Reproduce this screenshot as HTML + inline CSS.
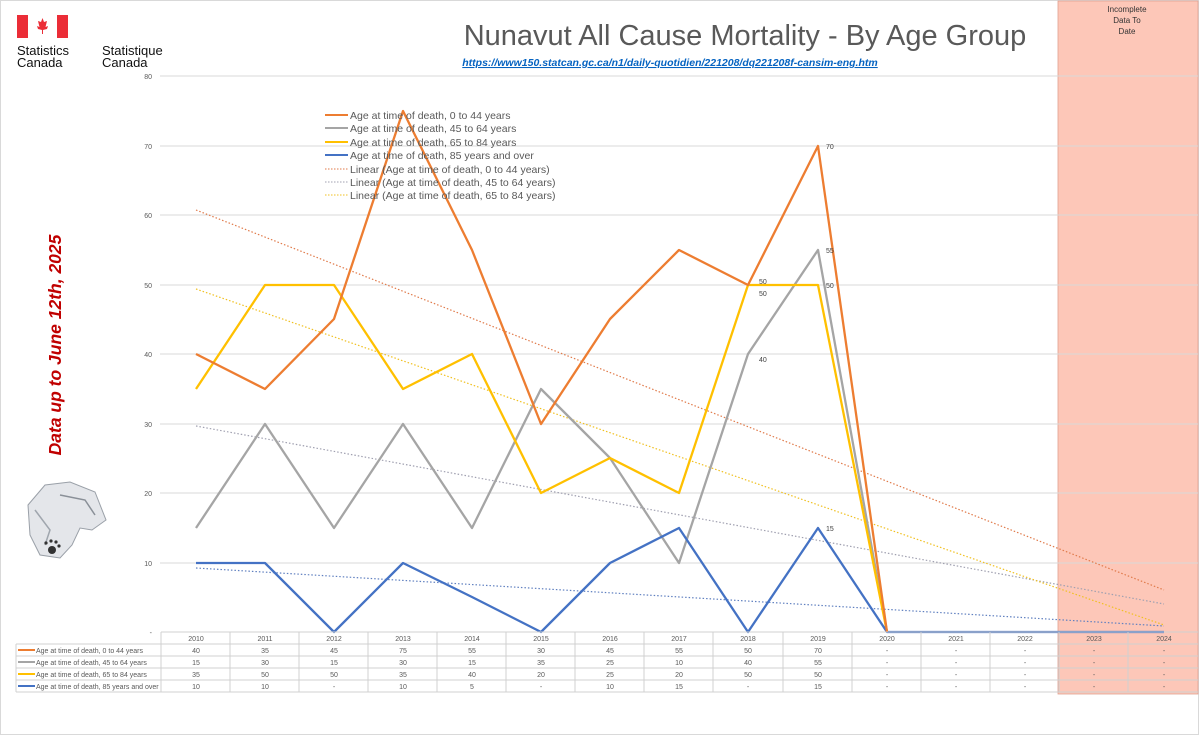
<!DOCTYPE html>
<html><head><meta charset="utf-8"><style>
body{margin:0;background:#fff;}
svg text{font-family:"Liberation Sans",sans-serif;}
</style></head><body>
<svg width="1199" height="736" viewBox="0 0 1199 736" xmlns="http://www.w3.org/2000/svg">
<rect x="0.5" y="0.5" width="1198" height="734" fill="#fff" stroke="#d9d9d9"/>
<rect x="1058" y="1" width="140" height="693" fill="#fdc7b8" stroke="#e0a090" stroke-width="0.8"/>
<text x="1127" y="12" font-size="8" text-anchor="middle" fill="#333">Incomplete</text>
<text x="1127" y="23" font-size="8" text-anchor="middle" fill="#333">Data To</text>
<text x="1127" y="34" font-size="8" text-anchor="middle" fill="#333">Date</text>
<rect x="17" y="15" width="11" height="23" fill="#eb2d37"/>
<rect x="57" y="15" width="11" height="23" fill="#eb2d37"/>
<path d="M42.5 18 L44 22 L47 21 L45.5 27 L48 26 L47 29 L43 30 L43 34 L42 34 L42 30 L38 29 L37 26 L39.5 27 L38 21 L41 22 Z" fill="#eb2d37"/>
<text x="17" y="55" font-size="13" fill="#111">Statistics</text>
<text x="17" y="67" font-size="13" fill="#111">Canada</text>
<text x="102" y="55" font-size="13" fill="#111">Statistique</text>
<text x="102" y="67" font-size="13" fill="#111">Canada</text>
<text x="745" y="45" font-size="29" text-anchor="middle" fill="#595959">Nunavut All Cause Mortality - By Age Group</text>
<text x="670" y="66" font-size="10.5" font-style="italic" font-weight="bold" text-anchor="middle" fill="#0563c1" text-decoration="underline">https://www150.statcan.gc.ca/n1/daily-quotidien/221208/dq221208f-cansim-eng.htm</text>
<text transform="translate(61,345) rotate(-90)" font-size="17.5" font-weight="bold" font-style="italic" text-anchor="middle" fill="#c00000">Data up to June 12th, 2025</text>
<path d="M28 505 L45 485 L70 482 L95 492 L106 520 L92 530 L80 528 L72 545 L60 558 L40 555 L30 535 Z" fill="#e4e6ea" stroke="#9aa0a8" stroke-width="1"/>
<path d="M60 495 L85 500 L95 515" fill="none" stroke="#8a9098" stroke-width="1.5"/>
<path d="M35 510 L50 530 L45 545" fill="none" stroke="#a0a6ae" stroke-width="1.5"/>
<circle cx="52" cy="550" r="4" fill="#333"/>
<circle cx="46" cy="543" r="1.6" fill="#333"/><circle cx="51" cy="541" r="1.6" fill="#333"/><circle cx="56" cy="542" r="1.6" fill="#333"/><circle cx="59" cy="546" r="1.6" fill="#333"/>
<g stroke="#d9d9d9" stroke-width="1">
<line x1="160" y1="76" x2="1198" y2="76"/><line x1="160" y1="146" x2="1198" y2="146"/>
<line x1="160" y1="215" x2="1198" y2="215"/><line x1="160" y1="285" x2="1198" y2="285"/>
<line x1="160" y1="354" x2="1198" y2="354"/><line x1="160" y1="424" x2="1198" y2="424"/>
<line x1="160" y1="493" x2="1198" y2="493"/><line x1="160" y1="563" x2="1198" y2="563"/>
</g>
<g font-size="7" fill="#595959" text-anchor="end">
<text x="152" y="79">80</text><text x="152" y="149">70</text><text x="152" y="218">60</text><text x="152" y="288">50</text><text x="152" y="357">40</text><text x="152" y="427">30</text><text x="152" y="496">20</text><text x="152" y="566">10</text><text x="152" y="635">-</text>
</g>
<g fill="none" stroke-width="1.2" stroke-dasharray="1.5,2">
<line x1="196" y1="210" x2="1164" y2="590" stroke="#e07a4a"/>
<line x1="196" y1="426" x2="1164" y2="604" stroke="#a0a0b0"/>
<line x1="196" y1="289" x2="1164" y2="625" stroke="#f0c020"/>
<line x1="196" y1="568" x2="1164" y2="626" stroke="#6080c0"/>
</g>
<g fill="none" stroke-width="2.3" stroke-linejoin="round">
<polyline stroke="#a5a5a5" points="196,528 265,424 334,528 403,424 472,528 541,389 610,458 679,563 748,354 818,250 887,632"/>
<polyline stroke="#ffc000" points="196,389 265,285 334,285 403,389 472,354 541,493 610,458 679,493 748,285 818,285 887,632"/>
<polyline stroke="#4472c4" points="196,563 265,563 334,632 403,563 472,597 541,632 610,563 679,528 748,632 818,528 887,632 1164,632"/>
<polyline stroke="#ed7d31" points="196,354 265,389 334,319 403,111 472,250 541,424 610,319 679,250 748,285 818,146 887,632"/>
</g>
<g font-size="7" fill="#404040">
<text x="826" y="149">70</text><text x="826" y="253">55</text><text x="826" y="288">50</text>
<text x="759" y="284">50</text><text x="759" y="296">50</text><text x="759" y="362">40</text><text x="826" y="531">15</text>
</g>
<g font-size="10.5" fill="#595959">
<line x1="325" y1="115" x2="348" y2="115" stroke="#ed7d31" stroke-width="2"/><text x="350" y="119">Age at time of death, 0 to 44 years</text>
<line x1="325" y1="128" x2="348" y2="128" stroke="#a5a5a5" stroke-width="2"/><text x="350" y="132">Age at time of death, 45 to 64 years</text>
<line x1="325" y1="142" x2="348" y2="142" stroke="#ffc000" stroke-width="2"/><text x="350" y="146">Age at time of death, 65 to 84 years</text>
<line x1="325" y1="155" x2="348" y2="155" stroke="#4472c4" stroke-width="2"/><text x="350" y="159">Age at time of death, 85 years and over</text>
<line x1="325" y1="169" x2="348" y2="169" stroke="#e07a4a" stroke-dasharray="1.5,1.5"/><text x="350" y="173">Linear (Age at time of death, 0 to 44 years)</text>
<line x1="325" y1="182" x2="348" y2="182" stroke="#a0a0b0" stroke-dasharray="1.5,1.5"/><text x="350" y="186">Linear (Age at time of death, 45 to 64 years)</text>
<line x1="325" y1="195" x2="348" y2="195" stroke="#f0c020" stroke-dasharray="1.5,1.5"/><text x="350" y="199">Linear (Age at time of death, 65 to 84 years)</text>
</g>
<g stroke="#d0d0d0" stroke-width="1" fill="none">
<line x1="161" y1="632" x2="1198" y2="632"/>
<line x1="16" y1="644" x2="1198" y2="644"/><line x1="16" y1="656" x2="1198" y2="656"/>
<line x1="16" y1="668" x2="1198" y2="668"/><line x1="16" y1="680" x2="1198" y2="680"/>
<line x1="16" y1="692" x2="1198" y2="692"/>
<line x1="16" y1="644" x2="16" y2="692"/>
<line x1="161" y1="632" x2="161" y2="692"/><line x1="230" y1="632" x2="230" y2="692"/><line x1="299" y1="632" x2="299" y2="692"/><line x1="368" y1="632" x2="368" y2="692"/><line x1="437" y1="632" x2="437" y2="692"/><line x1="506" y1="632" x2="506" y2="692"/><line x1="575" y1="632" x2="575" y2="692"/><line x1="644" y1="632" x2="644" y2="692"/><line x1="713" y1="632" x2="713" y2="692"/><line x1="783" y1="632" x2="783" y2="692"/><line x1="852" y1="632" x2="852" y2="692"/><line x1="921" y1="632" x2="921" y2="692"/><line x1="990" y1="632" x2="990" y2="692"/><line x1="1059" y1="632" x2="1059" y2="692"/><line x1="1128" y1="632" x2="1128" y2="692"/>
</g>
<g font-size="7" fill="#595959">
<line x1="18" y1="650" x2="35" y2="650" stroke="#ed7d31" stroke-width="2"/><text x="36" y="653">Age at time of death, 0 to 44 years</text>
<line x1="18" y1="662" x2="35" y2="662" stroke="#a5a5a5" stroke-width="2"/><text x="36" y="665">Age at time of death, 45 to 64 years</text>
<line x1="18" y1="674" x2="35" y2="674" stroke="#ffc000" stroke-width="2"/><text x="36" y="677">Age at time of death, 65 to 84 years</text>
<line x1="18" y1="686" x2="35" y2="686" stroke="#4472c4" stroke-width="2"/><text x="36" y="689">Age at time of death, 85 years and over</text>
</g>
<g font-size="7" fill="#595959" text-anchor="middle">
<text x="196" y="641">2010</text><text x="265" y="641">2011</text><text x="334" y="641">2012</text><text x="403" y="641">2013</text><text x="472" y="641">2014</text><text x="541" y="641">2015</text><text x="610" y="641">2016</text><text x="679" y="641">2017</text><text x="748" y="641">2018</text><text x="818" y="641">2019</text><text x="887" y="641">2020</text><text x="956" y="641">2021</text><text x="1025" y="641">2022</text><text x="1094" y="641">2023</text><text x="1164" y="641">2024</text>
<text x="196" y="653">40</text><text x="265" y="653">35</text><text x="334" y="653">45</text><text x="403" y="653">75</text><text x="472" y="653">55</text><text x="541" y="653">30</text><text x="610" y="653">45</text><text x="679" y="653">55</text><text x="748" y="653">50</text><text x="818" y="653">70</text><text x="887" y="653">-</text><text x="956" y="653">-</text><text x="1025" y="653">-</text><text x="1094" y="653">-</text><text x="1164" y="653">-</text>
<text x="196" y="665">15</text><text x="265" y="665">30</text><text x="334" y="665">15</text><text x="403" y="665">30</text><text x="472" y="665">15</text><text x="541" y="665">35</text><text x="610" y="665">25</text><text x="679" y="665">10</text><text x="748" y="665">40</text><text x="818" y="665">55</text><text x="887" y="665">-</text><text x="956" y="665">-</text><text x="1025" y="665">-</text><text x="1094" y="665">-</text><text x="1164" y="665">-</text>
<text x="196" y="677">35</text><text x="265" y="677">50</text><text x="334" y="677">50</text><text x="403" y="677">35</text><text x="472" y="677">40</text><text x="541" y="677">20</text><text x="610" y="677">25</text><text x="679" y="677">20</text><text x="748" y="677">50</text><text x="818" y="677">50</text><text x="887" y="677">-</text><text x="956" y="677">-</text><text x="1025" y="677">-</text><text x="1094" y="677">-</text><text x="1164" y="677">-</text>
<text x="196" y="689">10</text><text x="265" y="689">10</text><text x="334" y="689">-</text><text x="403" y="689">10</text><text x="472" y="689">5</text><text x="541" y="689">-</text><text x="610" y="689">10</text><text x="679" y="689">15</text><text x="748" y="689">-</text><text x="818" y="689">15</text><text x="887" y="689">-</text><text x="956" y="689">-</text><text x="1025" y="689">-</text><text x="1094" y="689">-</text><text x="1164" y="689">-</text>
</g>
</svg>
</body></html>
